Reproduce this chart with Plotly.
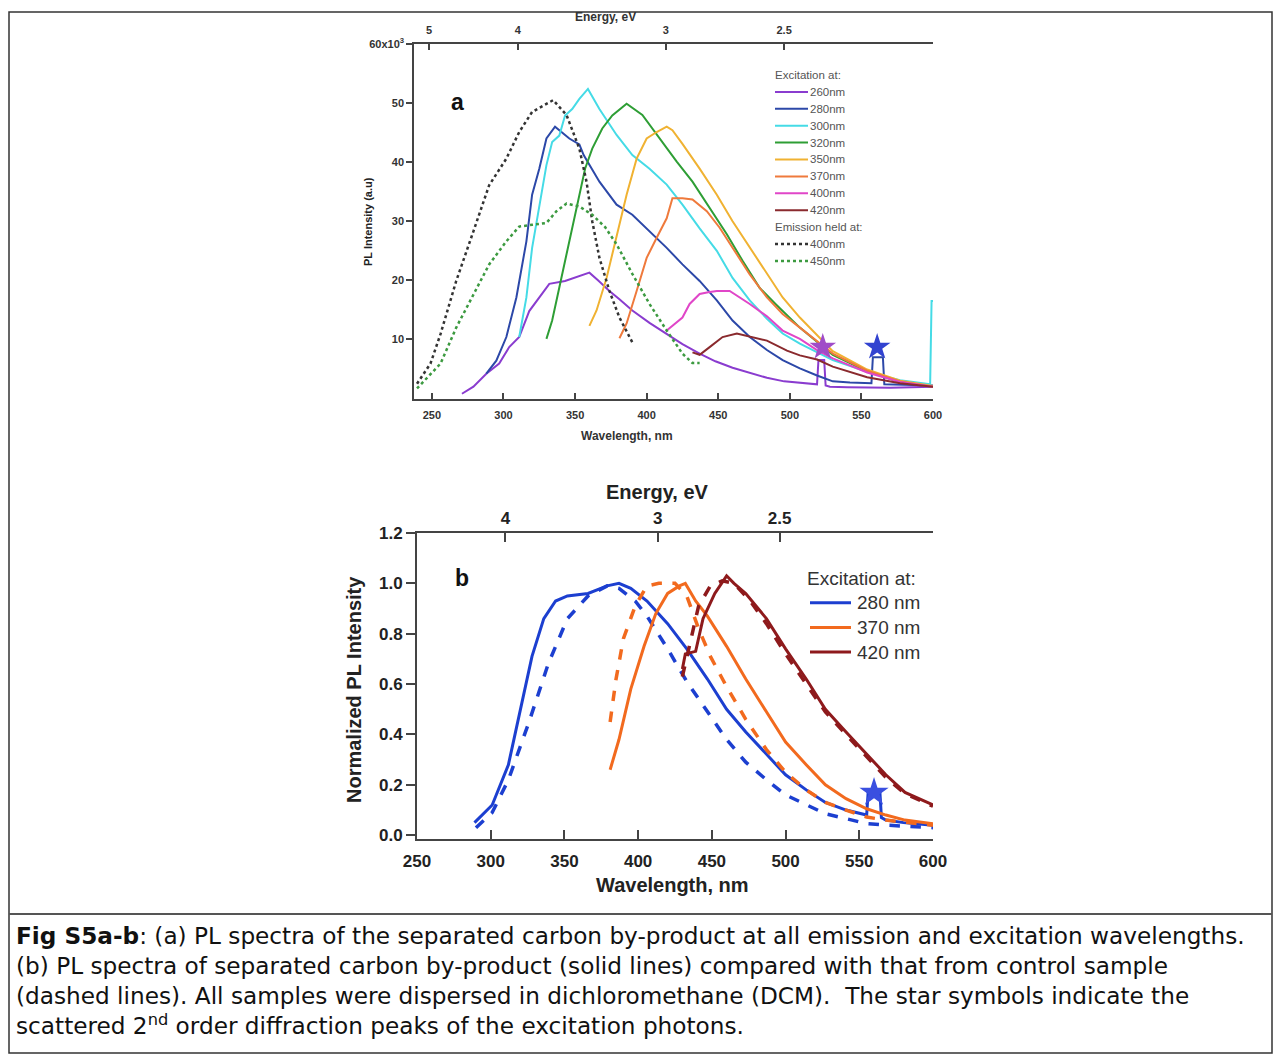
import plotly.graph_objects as go

# ---------------- Panel (a) data : wavelength (nm) / PL intensity (x10^3 a.u.) ----------------
a_ex260_wl = [271, 279, 288, 297, 304, 311, 318, 325, 332, 343, 353, 360, 366, 374, 381, 390, 402, 414, 425, 437, 448, 460, 472, 484, 496, 507, 516, 519, 520, 524, 525, 528, 540, 554, 570, 585, 600]
a_ex260_I = [0.8, 2.0, 4.2, 5.9, 8.7, 10.4, 14.8, 17.1, 19.4, 19.9, 20.7, 21.3, 20.0, 18.2, 16.8, 14.9, 12.8, 11.0, 9.2, 7.6, 6.3, 5.2, 4.3, 3.5, 2.9, 2.6, 2.4, 2.4, 6.5, 6.5, 2.2, 2.0, 1.9, 1.8, 1.8, 1.9, 2.0]

a_ex280_wl = [288, 295, 302, 309, 316, 320, 325, 330, 336, 341, 346, 353, 356, 367, 379, 390, 402, 414, 425, 437, 449, 460, 472, 484, 495, 507, 519, 530, 542, 554, 557, 558, 565, 566, 577, 590, 600]
a_ex280_I = [4.2, 6.4, 10.4, 17.1, 26.6, 34.5, 38.9, 44.0, 46.0, 45.0, 44.0, 43.0, 41.2, 36.7, 32.8, 31.1, 28.3, 25.5, 22.7, 19.9, 16.6, 13.2, 10.4, 8.2, 6.5, 5.1, 3.9, 2.9, 2.7, 2.6, 2.6, 7.0, 7.0, 2.4, 2.3, 2.2, 2.2]

a_ex300_wl = [311, 316, 320, 325, 330, 334, 339, 343, 348, 353, 359, 367, 379, 390, 402, 414, 425, 437, 449, 460, 472, 484, 495, 507, 530, 554, 577, 598, 599, 600]
a_ex300_I = [10.4, 17.1, 25.5, 32.2, 39.5, 43.4, 44.5, 47.9, 49.0, 50.7, 52.4, 49.0, 44.6, 41.2, 38.9, 36.2, 32.8, 28.8, 25.0, 20.4, 16.6, 13.5, 11.0, 9.3, 6.5, 4.5, 3.1, 2.4, 16.5, 16.5]

a_ex320_wl = [330, 334, 339, 343, 348, 353, 357, 362, 369, 376, 386, 397, 409, 421, 432, 444, 456, 467, 479, 490, 502, 507, 530, 554, 577, 600]
a_ex320_I = [10.1, 13.2, 18.8, 23.2, 28.9, 34.5, 38.9, 42.3, 45.7, 47.9, 49.9, 48.0, 44.0, 40.1, 36.7, 32.2, 27.8, 23.3, 18.7, 16.0, 13.2, 12.0, 7.4, 4.6, 2.8, 2.0]

a_ex350_wl = [360, 365, 372, 379, 386, 393, 400, 407, 414, 418, 425, 437, 449, 460, 472, 484, 495, 507, 530, 554, 577, 600]
a_ex350_I = [12.3, 14.9, 20.4, 27.2, 34.5, 40.6, 44.0, 45.1, 46.0, 45.4, 43.1, 38.9, 34.5, 30.0, 25.5, 21.0, 17.1, 13.7, 8.0, 4.9, 3.0, 2.1]

a_ex370_wl = [381, 386, 393, 400, 407, 414, 418, 425, 432, 442, 451, 460, 472, 484, 495, 507, 530, 554, 577, 600]
a_ex370_I = [10.2, 12.7, 18.2, 23.8, 27.2, 30.5, 33.9, 33.9, 33.7, 31.7, 28.9, 25.5, 21.0, 17.1, 14.3, 12.0, 7.6, 4.7, 2.9, 2.0]

a_ex400_wl = [414, 419, 425, 430, 437, 443, 449, 458, 465, 472, 484, 495, 507, 519, 530, 554, 577, 600]
a_ex400_I = [11.5, 12.5, 13.7, 16.0, 17.7, 18.0, 18.2, 18.2, 17.1, 16.0, 13.9, 11.5, 10.1, 8.2, 6.8, 4.4, 2.8, 2.0]

a_ex420_wl = [432, 437, 444, 453, 463, 474, 484, 498, 507, 519, 530, 554, 577, 600]
a_ex420_I = [7.8, 7.4, 8.7, 10.4, 11.0, 10.4, 9.8, 8.1, 7.3, 6.6, 5.4, 3.6, 2.6, 2.0]

a_em400_wl = [239.6, 249, 256, 267, 279, 290, 302, 311, 320, 327.6, 334.7, 344, 353, 358, 362, 367, 374, 381, 390]
a_em400_I = [2.5, 5.9, 10.9, 19.9, 28.3, 36.1, 40.6, 45.1, 48.5, 49.6, 50.5, 48.0, 42.3, 36.7, 30.0, 23.8, 18.2, 13.7, 9.5]

a_em450_wl = [239.6, 256, 267, 279, 290, 302, 311, 320, 330, 337, 344, 353, 362, 371, 379, 390, 402, 414, 425, 432, 437]
a_em450_I = [1.7, 5.9, 12.0, 17.6, 22.7, 26.6, 29.1, 29.4, 29.7, 31.7, 33.0, 32.5, 31.1, 29.0, 26.1, 21.1, 16.0, 11.5, 7.6, 6.0, 6.0]

a_star_wl = [523, 561]
a_star_I = [8.7, 8.7]

a_energy_ticks = [5, 4, 3, 2.5]
a_y_ticks = [10, 20, 30, 40, 50, 60]
a_y_ticktext = ["10", "20", "30", "40", "50", "60x10<sup>3</sup>"]
a_x_ticks = [250, 300, 350, 400, 450, 500, 550, 600]

# ---------------- Panel (b) data : wavelength (nm) / normalized PL ----------------
b_280_wl = [289, 301, 312, 320, 328, 336, 344, 352, 366, 379, 387, 395, 406, 420, 433, 447, 460, 473, 487, 500, 514, 527, 541, 552, 555, 556, 564, 565, 568, 580, 600]
b_280_I = [0.05, 0.12, 0.28, 0.49, 0.71, 0.86, 0.93, 0.95, 0.96, 0.99, 1.0, 0.98, 0.93, 0.84, 0.74, 0.62, 0.50, 0.41, 0.32, 0.24, 0.18, 0.13, 0.10, 0.085, 0.08, 0.17, 0.17, 0.07, 0.06, 0.05, 0.04]
b_280c_wl = [290, 301, 312, 326, 339, 352, 366, 379, 387, 398, 406, 420, 433, 447, 460, 473, 487, 500, 514, 527, 541, 555, 568, 600]
b_280c_I = [0.03, 0.09, 0.22, 0.45, 0.68, 0.86, 0.95, 0.99, 0.98, 0.93, 0.87, 0.74, 0.61, 0.49, 0.38, 0.29, 0.22, 0.16, 0.12, 0.085, 0.066, 0.046, 0.04, 0.03]

b_370_wl = [381, 387, 395, 404, 412, 420, 428, 432, 439, 447, 460, 473, 487, 500, 514, 527, 541, 555, 568, 581, 600]
b_370_I = [0.26, 0.38, 0.58, 0.75, 0.88, 0.96, 0.99, 1.0, 0.93, 0.87, 0.75, 0.62, 0.49, 0.37, 0.28, 0.20, 0.145, 0.105, 0.08, 0.06, 0.046]
b_370c_wl = [381, 385, 390, 398, 406, 414, 425, 433, 441, 449, 460, 473, 487, 500, 514, 527, 541, 555, 568, 600]
b_370c_I = [0.45, 0.62, 0.78, 0.91, 0.99, 1.0, 1.0, 0.95, 0.82, 0.71, 0.59, 0.46, 0.34, 0.25, 0.18, 0.13, 0.10, 0.072, 0.06, 0.04]

b_420_wl = [430, 432, 439, 444, 452, 460, 465, 473, 487, 500, 514, 527, 541, 555, 568, 581, 600]
b_420_I = [0.66, 0.72, 0.73, 0.86, 0.96, 1.03, 1.0, 0.96, 0.86, 0.74, 0.62, 0.50, 0.41, 0.32, 0.24, 0.17, 0.12]
b_420c_wl = [430, 436, 441, 449, 457, 465, 476, 487, 500, 514, 527, 541, 555, 568, 581, 600]
b_420c_I = [0.63, 0.79, 0.91, 0.99, 1.01, 1.0, 0.93, 0.84, 0.72, 0.60, 0.49, 0.40, 0.31, 0.23, 0.165, 0.115]

b_star_wl = [560]
b_star_I = [0.17]

b_energy_ticks = [4, 3, 2.5]
b_y_ticks = [0.0, 0.2, 0.4, 0.6, 0.8, 1.0, 1.2]
b_x_ticks = [250, 300, 350, 400, 450, 500, 550, 600]

caption_lines = [
    "<b>Fig S5a-b</b>: (a) PL spectra of the separated carbon by-product at all emission and excitation wavelengths.",
    "(b) PL spectra of separated carbon by-product (solid lines) compared with that from control sample",
    "(dashed lines). All samples were dispersed in dichloromethane (DCM).  The star symbols indicate the",
    "scattered 2<sup>nd</sup> order diffraction peaks of the excitation photons.",
]

W, H = 1277, 1055
def px(x):
    return x / W
def py(y):
    return 1 - y / H

fig = go.Figure()

a_series = [
    ("260nm", a_ex260_wl, a_ex260_I, "#8a3ccf"),
    ("280nm", a_ex280_wl, a_ex280_I, "#2c48a8"),
    ("300nm", a_ex300_wl, a_ex300_I, "#45dbe6"),
    ("320nm", a_ex320_wl, a_ex320_I, "#2e9e35"),
    ("350nm", a_ex350_wl, a_ex350_I, "#f0b232"),
    ("370nm", a_ex370_wl, a_ex370_I, "#ef7a3c"),
    ("400nm", a_ex400_wl, a_ex400_I, "#e046c8"),
    ("420nm", a_ex420_wl, a_ex420_I, "#8a2a2e"),
]
a_emission = [("400nm", a_em400_wl, a_em400_I, "#333333"),
              ("450nm", a_em450_wl, a_em450_I, "#3c9a40")]
for name, wl, I, col in a_series:
    fig.add_trace(go.Scatter(x=wl, y=I, mode="lines", name=name, showlegend=False,
                             line=dict(color=col, width=2), xaxis="x", yaxis="y"))
for name, wl, I, col in a_emission:
    fig.add_trace(go.Scatter(x=wl, y=I, mode="lines", name=name, showlegend=False,
                             line=dict(color=col, width=2.5, dash="dot"), xaxis="x", yaxis="y"))
fig.add_trace(go.Scatter(x=a_star_wl, y=a_star_I, mode="markers", showlegend=False,
                         marker=dict(symbol="star", size=20, color=["#a04cc8", "#3243d0"], line=dict(width=0)),
                         xaxis="x", yaxis="y"))
# invisible anchor so that the top energy axis of panel a is drawn
fig.add_trace(go.Scatter(x=[1240 / e for e in a_energy_ticks], y=[0] * len(a_energy_ticks), mode="markers",
                         marker=dict(opacity=0), showlegend=False, hoverinfo="skip", xaxis="x2", yaxis="y"))

b_series = [
    ("280 nm", b_280_wl, b_280_I, b_280c_wl, b_280c_I, "#1c3fd0"),
    ("370 nm", b_370_wl, b_370_I, b_370c_wl, b_370c_I, "#f26a1e"),
    ("420 nm", b_420_wl, b_420_I, b_420c_wl, b_420c_I, "#8e1a1c"),
]
for name, wl, I, wlc, Ic, col in b_series:
    fig.add_trace(go.Scatter(x=wlc, y=Ic, mode="lines", showlegend=False,
                             line=dict(color=col, width=3.5, dash="dash"), xaxis="x3", yaxis="y2"))
    fig.add_trace(go.Scatter(x=wl, y=I, mode="lines", name=name, showlegend=False,
                             line=dict(color=col, width=3), xaxis="x3", yaxis="y2"))
fig.add_trace(go.Scatter(x=b_star_wl, y=b_star_I, mode="markers", showlegend=False,
                         marker=dict(symbol="star", size=22, color="#3a4fe0", line=dict(width=0)),
                         xaxis="x3", yaxis="y2"))
fig.add_trace(go.Scatter(x=[1240 / e for e in b_energy_ticks], y=[0] * len(b_energy_ticks), mode="markers",
                         marker=dict(opacity=0), showlegend=False, hoverinfo="skip", xaxis="x4", yaxis="y2"))

AX_A = "#444444"
tfa = dict(family="Liberation Sans", size=11, color="#333333", weight="bold")
tfb = dict(family="Liberation Sans", size=17, color="#222222", weight="bold")

dom_ax = [px(414), px(933)]
dom_ay = [py(398.5), py(44)]
dom_bx = [px(417), px(933)]
dom_by = [py(839), py(533)]
a_xrange = [237.5, 600]
b_xrange = [250, 600]

fig.update_layout(
    width=W, height=H, margin=dict(l=0, r=0, t=0, b=0, pad=0, autoexpand=False),
    paper_bgcolor="white", plot_bgcolor="rgba(0,0,0,0)", showlegend=False,
    xaxis=dict(domain=dom_ax, anchor="y", range=a_xrange, tickvals=a_x_ticks,
               ticks="inside", ticklen=6, tickwidth=1.5, tickcolor=AX_A, ticklabelstandoff=6,
               showline=True, linecolor=AX_A, linewidth=1.5, showgrid=False, zeroline=False,
               tickfont=tfa, automargin=False),
    xaxis2=dict(overlaying="x", anchor="y", side="top", range=a_xrange,
                tickvals=[1240 / e for e in a_energy_ticks], ticktext=[f"{e:g}" for e in a_energy_ticks],
                ticks="inside", ticklen=6, tickwidth=1.5, tickcolor=AX_A, ticklabelstandoff=4,
                showline=True, linecolor=AX_A, linewidth=1.5, showgrid=False, zeroline=False,
                tickfont=tfa, automargin=False),
    yaxis=dict(domain=dom_ay, anchor="x", range=[0, 60], tickvals=a_y_ticks, ticktext=a_y_ticktext,
               ticks="outside", ticklen=6, tickwidth=1.5, tickcolor=AX_A,
               showline=True, linecolor=AX_A, linewidth=1.5, showgrid=False, zeroline=False,
               tickfont=tfa, automargin=False),
    xaxis3=dict(domain=dom_bx, anchor="y2", range=b_xrange, tickvals=b_x_ticks,
                ticks="inside", ticklen=9, tickwidth=2, tickcolor="#444", ticklabelstandoff=6,
                showline=True, linecolor="#444", linewidth=2, showgrid=False, zeroline=False,
                tickfont=tfb, automargin=False),
    xaxis4=dict(overlaying="x3", anchor="y2", side="top", range=b_xrange,
                tickvals=[1240 / e for e in b_energy_ticks], ticktext=[f"{e:g}" for e in b_energy_ticks],
                ticks="inside", ticklen=9, tickwidth=2, tickcolor="#444",
                showline=True, linecolor="#444", linewidth=2, showgrid=False, zeroline=False,
                tickfont=tfb, automargin=False),
    yaxis2=dict(domain=dom_by, anchor="x3", range=[-0.015, 1.2], tickvals=b_y_ticks, tickformat=".1f",
                ticks="outside", ticklen=9, tickwidth=2, tickcolor="#444",
                showline=True, linecolor="#444", linewidth=2, showgrid=False, zeroline=False,
                tickfont=tfb, automargin=False),
)

annotations = []
shapes = []

def label(text, x, y, size, color, angle=0, bold=True, anchor="center", yanchor="middle",
          family="Liberation Sans"):
    annotations.append(dict(text=text, x=px(x), y=py(y), xref="paper", yref="paper",
                            showarrow=False, xanchor=anchor, yanchor=yanchor, textangle=angle, align="left",
                            font=dict(family=family, size=size, color=color,
                                      weight="bold" if bold else "normal")))

label("Energy, eV", 605, 17, 12, "#333333")
label("Wavelength, nm", 627, 436, 12, "#333333")
label("PL Intensity (a.u)", 368, 222, 11, "#222222", angle=-90)
label("a", 457, 102, 23, "#111111")
label("Energy, eV", 657, 492, 20, "#222222")
label("Wavelength, nm", 672, 885, 20, "#222222")
label("Normalized PL Intensity", 354, 690, 20, "#222222", angle=-90)
label("b", 462, 578, 23, "#111111")

# ---- legend of panel a (built from the series lists) ----
leg_a_rows = [("Excitation at:", None, None)]
leg_a_rows += [(n, c, "solid") for n, _, _, c in a_series]
leg_a_rows += [("Emission held at:", None, None)]
leg_a_rows += [(n, c, "dot") for n, _, _, c in a_emission]
leg_a_top, leg_a_step = 75, 16.9
for i, (txt, col, dash) in enumerate(leg_a_rows):
    yy = leg_a_top + i * leg_a_step
    if col is None:
        label(txt, 773, yy, 11.5, "#555555", bold=False, anchor="left")
    else:
        shapes.append(dict(type="line", xref="paper", yref="paper", x0=px(775), x1=px(808),
                           y0=py(yy), y1=py(yy), line=dict(color=col, width=2.5 if dash == "dot" else 2, dash=dash)))
        label(txt, 808, yy, 11.5, "#555555", bold=False, anchor="left")

# ---- legend of panel b ----
leg_b_rows = [("Excitation at:", None)] + [(n, c) for n, _, _, _, _, c in b_series]
leg_b_top, leg_b_step = 578, 24.7
for i, (txt, col) in enumerate(leg_b_rows):
    yy = leg_b_top + i * leg_b_step
    if col is None:
        label(txt, 805, yy, 19, "#333333", bold=False, anchor="left")
    else:
        shapes.append(dict(type="line", xref="paper", yref="paper", x0=px(810), x1=px(851),
                           y0=py(yy), y1=py(yy), line=dict(color=col, width=3)))
        label(txt, 855, yy, 19, "#333333", bold=False, anchor="left")

# ---- caption: one multi-line text block ----
label("<br>".join(caption_lines), 14, 920, 23.2, "#111111", bold=False, anchor="left", yanchor="top",
      family="DejaVu Sans")

shapes.append(dict(type="rect", xref="paper", yref="paper", x0=px(9), x1=px(1272), y0=py(1053), y1=py(12),
                   line=dict(color="#333333", width=1.5)))
shapes.append(dict(type="line", xref="paper", yref="paper", x0=px(9), x1=px(1272), y0=py(914), y1=py(914),
                   line=dict(color="#555555", width=2)))

fig.update_layout(annotations=annotations, shapes=shapes)
fig.write_html("out.html", config={"displayModeBar": False},
               post_script="document.body.style.margin='0px';")
